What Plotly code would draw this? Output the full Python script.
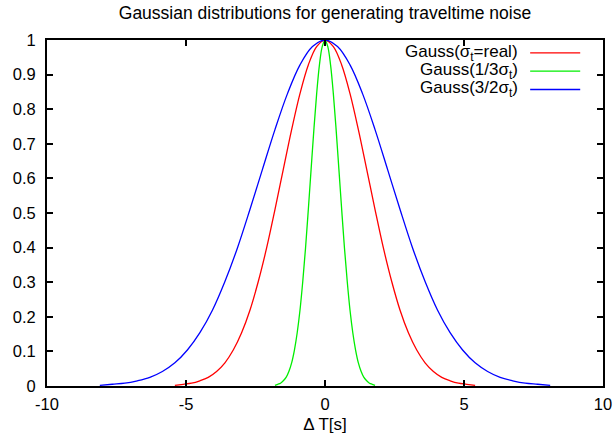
import plotly.graph_objects as go

# Data
x_real = [-5.4, -5.1, -4.8, -4.5, -4.2, -3.9, -3.6, -3.3, -3.0, -2.7, -2.4, -2.1, -1.8, -1.5, -1.2, -0.9, -0.6, -0.3,
          0.0, 0.3, 0.6, 0.9, 1.2, 1.5, 1.8, 2.1, 2.4, 2.7, 3.0, 3.3, 3.6, 3.9, 4.2, 4.5, 4.8, 5.1, 5.4]
y_real = [0.002, 0.005, 0.008, 0.015, 0.025, 0.042, 0.067, 0.104, 0.154, 0.219, 0.302, 0.399, 0.510, 0.626, 0.741, 0.845, 0.928, 0.981,
          1.0, 0.981, 0.928, 0.845, 0.741, 0.626, 0.510, 0.399, 0.302, 0.219, 0.154, 0.104, 0.067, 0.042, 0.025, 0.015, 0.008, 0.005, 0.002]

x_third = [-1.8, -1.7, -1.6, -1.5, -1.4, -1.3, -1.2, -1.1, -1.0, -0.9, -0.8, -0.7, -0.6, -0.5, -0.4, -0.3, -0.2, -0.1,
           0.0, 0.1, 0.2, 0.3, 0.4, 0.5, 0.6, 0.7, 0.8, 0.9, 1.0, 1.1, 1.2, 1.3, 1.4, 1.5, 1.6, 1.7, 1.8]
y_third = [0.002, 0.005, 0.008, 0.015, 0.025, 0.042, 0.067, 0.104, 0.154, 0.219, 0.302, 0.399, 0.510, 0.626, 0.741, 0.845, 0.928, 0.981,
           1.0, 0.981, 0.928, 0.845, 0.741, 0.626, 0.510, 0.399, 0.302, 0.219, 0.154, 0.104, 0.067, 0.042, 0.025, 0.015, 0.008, 0.005, 0.002]

x_3half = [-8.1, -7.65, -7.2, -6.75, -6.3, -5.85, -5.4, -4.95, -4.5, -4.05, -3.6, -3.15, -2.7, -2.25, -1.8, -1.35, -0.9, -0.45,
           0.0, 0.45, 0.9, 1.35, 1.8, 2.25, 2.7, 3.15, 3.6, 4.05, 4.5, 4.95, 5.4, 5.85, 6.3, 6.75, 7.2, 7.65, 8.1]
y_3half = [0.002, 0.005, 0.008, 0.015, 0.025, 0.042, 0.067, 0.104, 0.154, 0.219, 0.302, 0.399, 0.510, 0.626, 0.741, 0.845, 0.928, 0.981,
           1.0, 0.981, 0.928, 0.845, 0.741, 0.626, 0.510, 0.399, 0.302, 0.219, 0.154, 0.104, 0.067, 0.042, 0.025, 0.015, 0.008, 0.005, 0.002]

series = [
    ("Gauss(σ<sub>t</sub>=real)", x_real, y_real, "#ff0000"),
    ("Gauss(1/3σ<sub>t</sub>)", x_third, y_third, "#00ee00"),
    ("Gauss(3/2σ<sub>t</sub>)", x_3half, y_3half, "#0000ff"),
]

x_ticks = [-10, -5, 0, 5, 10]
y_ticks = [0, 0.1, 0.2, 0.3, 0.4, 0.5, 0.6, 0.7, 0.8, 0.9, 1]
y_ticklabels = ["0", "0.1", "0.2", "0.3", "0.4", "0.5", "0.6", "0.7", "0.8", "0.9", "1"]

FONT = "Liberation Sans, Arial, sans-serif"

fig = go.Figure()
annotations = []
shapes = []
leg_rows = [0.963, 0.910, 0.857]
for i, (name, xs, ys, col) in enumerate(series):
    fig.add_trace(go.Scatter(x=xs, y=ys, mode="lines", name=name,
                             line=dict(color=col, width=1.3, shape="spline", smoothing=1.0),
                             showlegend=False))
    yy = leg_rows[i]
    annotations.append(dict(text=name, x=0.851, y=yy, xref="paper", yref="paper",
                            xanchor="right", yanchor="middle", showarrow=False,
                            font=dict(family=FONT, size=17, color="black")))
    shapes.append(dict(type="line", xref="paper", yref="paper", x0=0.869, x1=0.959,
                       y0=yy, y1=yy, line=dict(color=col, width=1.3)))

axis_common = dict(showline=True, linecolor="black", linewidth=2, mirror="allticks",
                   ticks="inside", ticklen=6, tickwidth=2, tickcolor="black",
                   showgrid=False, zeroline=False, automargin=False,
                   tickfont=dict(family=FONT, size=16.5, color="black"))

fig.update_layout(
    width=613, height=443,
    margin=dict(l=47, r=10, t=40, b=57),
    paper_bgcolor="white", plot_bgcolor="white",
    title=dict(text="Gaussian distributions for generating traveltime noise",
               x=0.5, xref="paper", xanchor="center", y=0.972, yanchor="middle",
               font=dict(family=FONT, size=17.5, color="black")),
    xaxis=dict(range=[-10, 10], tickvals=x_ticks, ticktext=[str(v) for v in x_ticks],
               title=dict(text="Δ T[s]", font=dict(family=FONT, size=17, color="black"), standoff=6),
               ticklabelstandoff=2, **axis_common),
    yaxis=dict(range=[0, 1], tickvals=y_ticks, ticktext=y_ticklabels, ticklabelstandoff=6, **axis_common),
    annotations=annotations, shapes=shapes,
)

fig.write_html("out.html")
